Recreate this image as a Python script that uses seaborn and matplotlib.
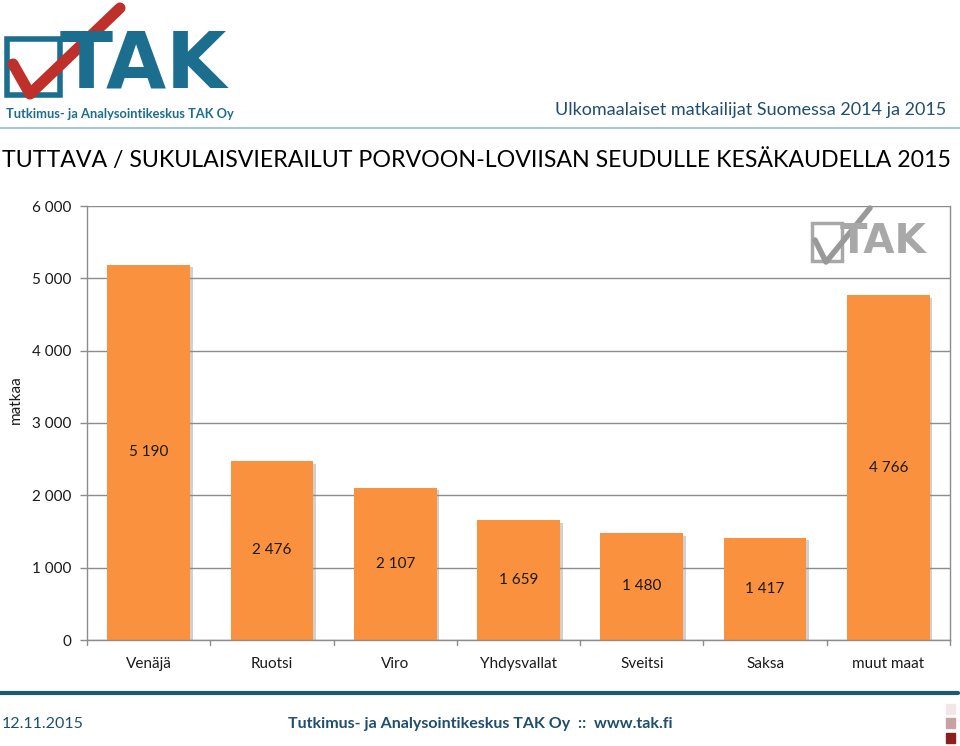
import matplotlib
matplotlib.use("Agg")
import matplotlib.pyplot as plt
import matplotlib.patheffects as pe
from matplotlib.patches import Rectangle
from matplotlib.lines import Line2D
import seaborn as sns
import pandas as pd

categories = ["Venäjä", "Ruotsi", "Viro", "Yhdysvallat", "Sveitsi", "Saksa", "muut maat"]
values = [5190, 2476, 2107, 1659, 1480, 1417, 4766]
yticks = [0, 1000, 2000, 3000, 4000, 5000, 6000]
ytick_labels = ["0", "1 000", "2 000", "3 000", "4 000", "5 000", "6 000"]

title = "TUTTAVA / SUKULAISVIERAILUT PORVOON-LOVIISAN SEUDULLE KESÄKAUDELLA 2015"
subtitle = "Ulkomaalaiset matkailijat Suomessa 2014 ja 2015"
footer_date = "12.11.2015"
footer_org = "Tutkimus- ja Analysointikeskus TAK Oy  ::  www.tak.fi"
logo_sub = "Tutkimus- ja Analysointikeskus TAK Oy"

sns.set_theme(style="white")
plt.rcParams["font.family"] = ["Lato", "DejaVu Sans"]

W, H = 960, 746
fig = plt.figure(figsize=(W / 100, H / 100), dpi=100)

def fx(x):
    return x / W

def fy(y):
    return 1 - y / H

ax = fig.add_axes([fx(87), fy(640), fx(950) - fx(87), fy(206) - fy(640)])

df = pd.DataFrame({"maa": categories, "matkaa": values})
orange = "#F9913E"
sns.barplot(data=df, x="maa", y="matkaa", color=orange, width=0.67, ax=ax,
            saturation=1, edgecolor="none")

for p in ax.patches:
    p.set_path_effects([pe.SimplePatchShadow(offset=(2, -2), shadow_rgbFace="#8a8a8a", alpha=0.4),
                        pe.Normal()])

for i, v in enumerate(values):
    ax.text(i, v / 2, f"{v:,}".replace(",", " "), ha="center", va="center",
            fontsize=11, color="#1a1a1a")

ax.set_ylim(0, 6000)
ax.set_xlim(-0.5, len(categories) - 0.5)
ax.set_yticks(yticks)
ax.set_yticklabels(ytick_labels, fontsize=11, color="#1a1a1a")
ax.yaxis.grid(True, color="#8c8c8c", linewidth=1)
ax.set_axisbelow(True)
ax.set_xlabel("")
ax.set_ylabel("")
ax.tick_params(axis="y", length=5, color="#8c8c8c", width=1, pad=6, left=True)
ax.tick_params(axis="x", length=0, pad=12, labelsize=11, labelcolor="#1a1a1a")
ax.set_xticks(range(len(categories)))
ax.set_xticklabels(categories)
for s in ["left", "bottom", "right", "top"]:
    ax.spines[s].set_visible(True)
    ax.spines[s].set_color("#8c8c8c")
    ax.spines[s].set_linewidth(1)
ax.spines["top"].set_visible(False)
# category boundary ticks on x axis
for b in range(len(categories) + 1):
    ax.plot([b - 0.5, b - 0.5], [0, -70], color="#8c8c8c", lw=1, clip_on=False)

fig.text(fx(16), fy(400), "matkaa", rotation=90, fontsize=11, color="#1a1a1a",
         ha="center", va="center")

# Titles
fig.text(fx(2), fy(160), title, fontsize=16.7, color="black", ha="left", va="center")
fig.text(fx(946), fy(110), subtitle, fontsize=13, color="#1F4E6E", ha="right", va="center")

# Header line
fig.add_artist(Line2D([0, 1], [fy(128), fy(128)], color="#A9C6D3", lw=1.5))
# Footer line
fig.add_artist(Line2D([0, fx(958)], [fy(693), fy(693)], color="#1B5A70", lw=3))
fig.text(fx(2), fy(724), footer_date, fontsize=11.5, color="#1F4E6E", ha="left", va="center")
fig.text(fx(480), fy(724), footer_org, fontsize=11.5, color="#1F4E6E", ha="center", va="center",
         fontweight="bold")
for yy, c in [(709, "#F2E6E8"), (723, "#C9A1A3"), (738, "#8B1E1E")]:
    fig.add_artist(Rectangle((fx(946), fy(yy + 5)), fx(9), 10 / H,
                             color=c, transform=fig.transFigure))

# Header logo (approximation)
teal = "#1C6E8E"
fig.add_artist(Rectangle((fx(7), fy(95)), fx(60) - fx(7), (95 - 39) / H, fill=False,
                         edgecolor=teal, lw=4, transform=fig.transFigure))
fig.text(fx(60), fy(66), "TAK", fontsize=56, fontweight="bold", color=teal,
         ha="left", va="center", family="DejaVu Sans")
fig.add_artist(Line2D([fx(13), fx(30), fx(120)], [fy(64), fy(94), fy(8)],
                      color="#C0302B", lw=8, solid_capstyle="round", solid_joinstyle="round"))
fig.text(fx(6), fy(114), logo_sub, fontsize=9.3, fontweight="bold", color=teal,
         ha="left", va="center")

# Watermark logo in plot
grey = "#A8A8A8"
fig.add_artist(Rectangle((fx(812), fy(261)), fx(842) - fx(812), (261 - 223) / H, fill=False,
                         edgecolor=grey, lw=2.5, transform=fig.transFigure))
fig.text(fx(840), fy(242), "TAK", fontsize=29, fontweight="bold", color=grey,
         ha="left", va="center", family="DejaVu Sans")
fig.add_artist(Line2D([fx(815), fx(826), fx(870)], [fy(240), fy(262), fy(208)],
                      color="#999999", lw=4, solid_capstyle="round"))

fig.savefig("out.png", dpi=100)
